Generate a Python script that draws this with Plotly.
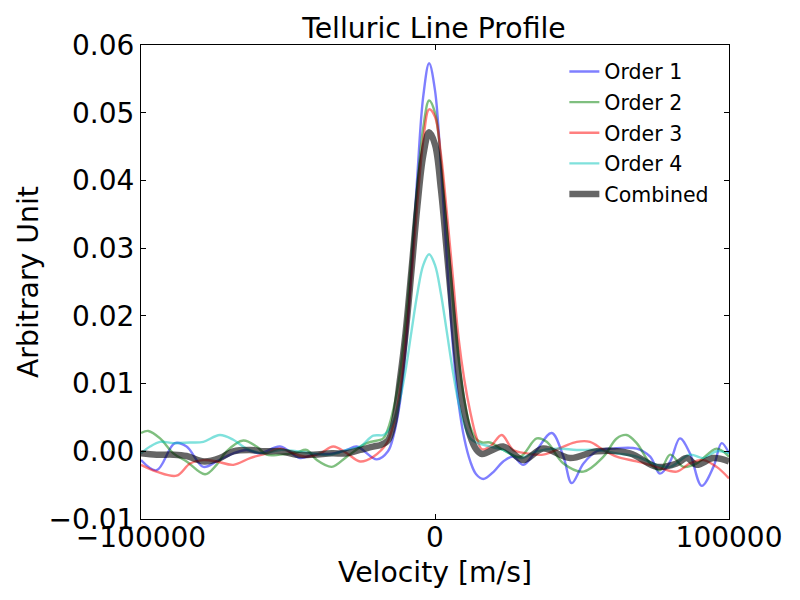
import plotly.graph_objects as go

# ---- data ----
v_order1 = [-100000, -94700, -88500, -84500, -78800, -74300, -68600, -64100, -59500, -52700,
            -45900, -41400, -34600, -30000, -26600, -19800, -16000, -14000, -12000, -10000,
            -8000, -6000, -4000, -2000, 0, 2000, 4000, 6000, 8000, 10000,
            12000, 14000, 16400, 20000, 23200, 26600, 30000, 34600, 39700, 43700,
            46500, 50500, 55000, 60700, 68600, 73200, 76500, 80000, 83300, 86700,
            90700, 94700, 97500, 100000]
order1 = [-0.0013, -0.0028, 0.0012, 0.0007, -0.0023, -0.0015, -0.0003, 0.0002, -0.0003, 0.0007,
          -0.0010, -0.0005, -0.0003, 0.0002, 0.0007, -0.0012, 0.0000, 0.0025, 0.0070, 0.0150,
          0.0270, 0.0408, 0.0524, 0.0573, 0.0533, 0.0423, 0.0286, 0.0160, 0.0072, 0.0018,
          -0.0015, -0.0034, -0.0041, -0.0030, -0.0015, -0.0008, -0.0020, 0.0002, 0.0027, -0.0008,
          -0.0047, -0.0018, 0.0000, 0.0004, 0.0004, -0.0008, -0.0033, -0.0015, 0.0019, -0.0003,
          -0.0051, -0.0023, 0.0012, -0.0003]

v_order2 = [-100000, -97500, -93500, -89000, -84500, -78200, -74300, -70900, -65200, -60700,
            -57300, -52700, -47100, -43700, -40200, -35100, -30000, -23200, -17600, -16000,
            -14000, -12000, -10000, -8000, -6000, -4000, -2000, 0, 2000, 4000,
            6000, 8000, 10000, 12000, 14000, 16000, 18700, 23200, 28900, 34600,
            38000, 43700, 50500, 57300, 61800, 65200, 68600, 73200, 76500, 80000,
            84500, 89000, 95800, 100000]
order2 = [0.0027, 0.0030, 0.0019, -0.0003, -0.0015, -0.0034, -0.0020, 0.0000, 0.0016, 0.0007,
          -0.0005, -0.0005, -0.0002, 0.0002, -0.0013, -0.0023, -0.0008, 0.0012, 0.0019, 0.0033,
          0.0065, 0.0113, 0.0188, 0.0288, 0.0393, 0.0478, 0.0518, 0.0500, 0.0431, 0.0331,
          0.0226, 0.0138, 0.0075, 0.0036, 0.0018, 0.0013, 0.0013, 0.0002, -0.0008, 0.0019,
          0.0014, -0.0018, -0.0030, -0.0008, 0.0019, 0.0024, 0.0012, -0.0018, -0.0028, -0.0005,
          -0.0023, -0.0018, 0.0004, -0.0008]

v_order3 = [-100000, -94700, -87900, -83300, -78800, -74300, -68600, -62900, -57300, -52700,
            -47100, -43700, -39100, -34600, -30000, -25500, -21000, -16400, -14000, -12000,
            -10000, -8000, -6000, -4000, -2000, 0, 2000, 4000, 6000, 8000,
            10000, 12000, 14000, 16000, 19000, 22700, 26600, 31200, 36800, 43700,
            48200, 52700, 57300, 61800, 68600, 75400, 82200, 86700, 91300, 95800,
            100000]
order3 = [-0.0020, -0.0030, -0.0036, -0.0018, -0.0013, -0.0015, -0.0020, -0.0010, -0.0003, 0.0004,
          -0.0005, -0.0008, -0.0003, 0.0007, -0.0003, -0.0015, -0.0008, 0.0012, 0.0042, 0.0087,
          0.0160, 0.0258, 0.0367, 0.0459, 0.0505, 0.0494, 0.0439, 0.0354, 0.0261, 0.0168,
          0.0105, 0.0058, 0.0022, 0.0003, 0.0008, 0.0024, 0.0002, -0.0003, -0.0005, 0.0007,
          0.0014, 0.0014, 0.0002, -0.0008, -0.0015, -0.0023, -0.0030, -0.0018, -0.0013, -0.0023,
          -0.0040]

v_order4 = [-100000, -96900, -93500, -89000, -83300, -78800, -73200, -68600, -64100, -58400,
            -52700, -47100, -41400, -35700, -30000, -25500, -21000, -17600, -16000, -14000,
            -12000, -10000, -8000, -6000, -4000, -2000, 0, 2000, 4000, 6000,
            8000, 10000, 12000, 14000, 18700, 23200, 28900, 34600, 41400, 48200,
            55000, 61800, 68600, 75400, 80000, 86700, 91300, 95800, 100000]
order4 = [-0.0003, 0.0007, 0.0014, 0.0012, 0.0013, 0.0014, 0.0024, 0.0017, 0.0004, -0.0003,
          0.0002, 0.0000, -0.0003, -0.0005, 0.0002, 0.0007, 0.0023, 0.0024, 0.0030, 0.0046,
          0.0075, 0.0120, 0.0177, 0.0233, 0.0275, 0.0291, 0.0275, 0.0233, 0.0177, 0.0120,
          0.0072, 0.0039, 0.0019, 0.0013, 0.0007, 0.0002, -0.0010, 0.0000, 0.0004, 0.0002,
          0.0002, -0.0003, -0.0008, -0.0020, -0.0023, -0.0005, -0.0010, 0.0000, -0.0003]

v_combined = [-100000, -94700, -89000, -84500, -78500, -73200, -68600, -63000, -58000, -52700,
              -47100, -41400, -35100, -30000, -25500, -21000, -18700, -16000, -14000, -12000,
              -10000, -8000, -6000, -4000, -2000, 0, 2000, 4000, 6000, 8000,
              10000, 12000, 14000, 16000, 23200, 30000, 36800, 45900, 55000, 66300,
              75400, 82200, 85600, 89000, 94700, 100000]
combined = [-0.0003, -0.0005, -0.0005, -0.0007, -0.0015, -0.0010, 0.0000, 0.0002, 0.0000, 0.0000,
            -0.0005, -0.0005, -0.0003, -0.0003, 0.0002, 0.0007, 0.0009, 0.0016, 0.0042, 0.0103,
            0.0175, 0.0267, 0.0362, 0.0437, 0.0471, 0.0453, 0.0388, 0.0296, 0.0201, 0.0115,
            0.0058, 0.0022, 0.0003, -0.0004, 0.0007, -0.0013, 0.0004, -0.0010, 0.0000, -0.0003,
            -0.0023, -0.0018, -0.0010, -0.0020, -0.0010, -0.0015]

series_names = ["Order 1", "Order 2", "Order 3", "Order 4", "Combined"]

x_tickvals = [-100000, 0, 100000]
x_ticktext = ["\u2212100000", "0", "100000"]
y_tickvals = [-0.01, 0.0, 0.01, 0.02, 0.03, 0.04, 0.05, 0.06]
y_ticktext = ["\u22120.01", "0.00", "0.01", "0.02", "0.03", "0.04", "0.05", "0.06"]

# ---- figure ----
FONT = "DejaVu Sans"
styles = [
    ("rgba(0,0,255,0.5)", 2.4),
    ("rgba(0,128,0,0.5)", 2.4),
    ("rgba(255,0,0,0.5)", 2.4),
    ("rgba(0,195,185,0.5)", 2.4),
    ("rgba(0,0,0,0.6)", 6.5),
]
xs = [v_order1, v_order2, v_order3, v_order4, v_combined]
ys = [order1, order2, order3, order4, combined]

fig = go.Figure()
for i, (name, x, y, (col, w)) in enumerate(zip(series_names, xs, ys, styles)):
    fig.add_trace(go.Scatter(
        x=x, y=y, mode="lines", name=name, legendgroup=f"g{i}",
        line=dict(color=col, width=w, shape="spline", smoothing=1.0),
    ))

axis_common = dict(
    showline=True, linecolor="black", linewidth=1, mirror="ticks",
    ticks="inside", ticklen=5, tickwidth=1, tickcolor="black",
    showgrid=False, zeroline=False,
    tickfont=dict(family=FONT, size=28, color="black"),
)

fig.update_layout(
    width=800, height=600,
    margin=dict(l=141, r=71, t=45, b=81),
    paper_bgcolor="white", plot_bgcolor="white",
    title=dict(text="Telluric Line Profile", x=0.5425, xanchor="center",
               y=1 - 28 / 600, yanchor="middle",
               font=dict(family=FONT, size=28.3, color="black")),
    xaxis=dict(range=[-100000, 100000], tickvals=x_tickvals, ticktext=x_ticktext,
               ticklabelstandoff=-7, **axis_common),
    yaxis=dict(range=[-0.01, 0.06], tickvals=y_tickvals, ticktext=y_ticktext, **axis_common),
    legend=dict(x=0.72, y=0.986, xanchor="left", yanchor="top",
                bgcolor="rgba(0,0,0,0)", borderwidth=0, tracegroupgap=1,
                font=dict(family=FONT, size=20.5, color="black")),
    showlegend=True,
    annotations=[
        dict(text="Velocity [m/s]", xref="paper", yref="paper", x=0.5, y=(519 - 572) / 474,
             xanchor="center", yanchor="middle", showarrow=False,
             font=dict(family=FONT, size=28.3, color="black")),
        dict(text="Arbitrary Unit", xref="paper", yref="paper", x=(28 - 141) / 588, y=0.5,
             xanchor="center", yanchor="middle", showarrow=False, textangle=-90,
             font=dict(family=FONT, size=28.3, color="black")),
    ],
)

fig.write_html("out.html", config={"displayModeBar": False},
               post_script="document.body.style.margin='0px';")
